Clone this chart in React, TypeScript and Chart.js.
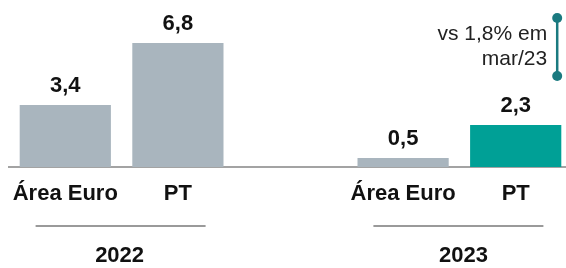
import React, { useEffect, useRef } from "react";
import { Chart, registerables } from "chart.js";

Chart.register(...registerables);

// ---- data ----
const categories = ["Área Euro", "PT", "", "Área Euro", "PT"];
const values: (number | null)[] = [3.4, 6.8, null, 0.5, 2.3];
const barColors = ["#a9b5be", "#a9b5be", "rgba(0,0,0,0)", "#a9b5be", "#00a096"];
const groupYears = ["2022", "2023"];
const groupMembers = [
  [0, 1],
  [3, 4],
];
const noteLines = ["vs 1,8% em", "mar/23"];
const noteBarIndex = 4;

const FONT = "'Liberation Sans', Arial, Helvetica, sans-serif";

const overlayPlugin = {
  id: "overlay",
  afterDatasetsDraw(chart: any) {
    const ctx = chart.ctx as CanvasRenderingContext2D;
    const meta = chart.getDatasetMeta(0);
    ctx.save();
    // value labels
    ctx.font = `bold 22px ${FONT}`;
    ctx.textAlign = "center";
    ctx.textBaseline = "alphabetic";
    ctx.fillStyle = "#111111";
    meta.data.forEach((bar: any, i: number) => {
      const v = values[i];
      if (v == null) return;
      ctx.fillText(v.toFixed(1).replace(".", ","), bar.x, bar.y - 13);
    });
    // group lines + years
    groupMembers.forEach((members, g) => {
      const x0 = meta.data[members[0]].x;
      const x1 = meta.data[members[members.length - 1]].x;
      const mid = (x0 + x1) / 2;
      ctx.strokeStyle = "#9a9a9a";
      ctx.lineWidth = 2;
      ctx.beginPath();
      ctx.moveTo(mid - 86, 226);
      ctx.lineTo(mid + 84, 226);
      ctx.stroke();
      ctx.font = `bold 22px ${FONT}`;
      ctx.fillStyle = "#111111";
      ctx.textAlign = "center";
      ctx.fillText(groupYears[g], mid + (g === 0 ? -2 : 4), 262);
    });
    // annotation
    const nb = meta.data[noteBarIndex];
    const lx = nb.x + 41.5;
    const yTop = 18;
    const yBot = 76;
    ctx.strokeStyle = "#1a7a80";
    ctx.fillStyle = "#1a7a80";
    ctx.lineWidth = 2.5;
    ctx.beginPath();
    ctx.moveTo(lx, yTop);
    ctx.lineTo(lx, yBot);
    ctx.stroke();
    [yTop, yBot].forEach((yy) => {
      ctx.beginPath();
      ctx.arc(lx, yy, 5, 0, Math.PI * 2);
      ctx.fill();
    });
    ctx.font = `21px ${FONT}`;
    ctx.fillStyle = "#222222";
    ctx.textAlign = "right";
    noteLines.forEach((t, i) => {
      ctx.fillText(t, lx - 10, 40 + i * 25);
    });
    ctx.restore();
  },
};

export default function App() {
  const ref = useRef<HTMLCanvasElement | null>(null);
  useEffect(() => {
    if (!ref.current) return;
    const chart = new Chart(ref.current, {
      type: "bar",
      data: {
        labels: categories,
        datasets: [
          {
            data: values as any,
            backgroundColor: barColors,
            borderWidth: 0,
            barPercentage: 0.81,
            categoryPercentage: 1,
          },
        ],
      },
      options: {
        responsive: false,
        animation: false,
        devicePixelRatio: 1,
        layout: { padding: { top: 21, left: 9, right: 0, bottom: 0 } },
        plugins: {
          legend: { display: false },
          tooltip: { enabled: false },
        },
        scales: {
          x: {
            grid: { display: false, drawTicks: false },
            border: { display: true, color: "#a3a3a3", width: 2 },
            ticks: {
              color: "#111111",
              font: { family: FONT, size: 22, weight: "bold" },
              padding: 14,
              maxRotation: 0,
              autoSkip: false,
            },
            afterFit(scale: any) {
              scale.height = 101;
              scale.paddingLeft = 0;
              scale.paddingRight = 0;
            },
          },
          y: {
            display: false,
            min: 0,
            max: 8,
          },
        },
      },
      plugins: [overlayPlugin],
    });
    return () => chart.destroy();
  }, []);
  return (
    <div
      style={{
        position: "fixed",
        left: 0,
        top: 0,
        width: 566,
        height: 268,
        overflow: "hidden",
        background: "#ffffff",
      }}
    >
      <canvas ref={ref} width={572} height={268} style={{ display: "block" }} />
    </div>
  );
}
